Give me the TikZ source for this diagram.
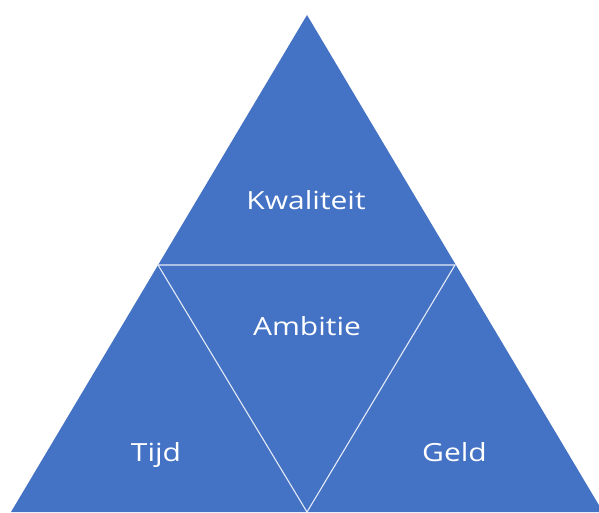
\documentclass[tikz,border=0pt]{standalone}
\usepackage{fontspec}
\setmainfont{Open Sans}
\usetikzlibrary{positioning}
\definecolor{officeblue}{HTML}{4472C4}
\newcommand\breed[1]{\scalebox{1.2}[1]{#1}}
\tikzset{lijn/.style={draw=white!85!officeblue, line width=1.1pt, line join=miter},
	tekst/.style={text=white, font=\fontsize{25}{30}\selectfont, inner sep=0pt, anchor=base}}

\begin{document}
\begin{tikzpicture}[x=1pt, y=-1pt]
	\useasboundingbox[fill=white] (0,0) rectangle (599,512);
	\coordinate(top) at (307,15);
	\coordinate(left) at (11,512);
	\coordinate(right) at (603,512);
	\coordinate(midL) at (158,265);
	\coordinate(midR) at (455,265);
	\coordinate(bottom) at (307,512);
	\fill[officeblue] (top) -- (left) -- (right) -- cycle;
	\draw[lijn] (midL) -- (midR) -- (bottom) -- cycle;
	\node[tekst](kwaliteit) at (306,209){\breed{Kwaliteit}};
	\node[tekst](ambitie) at (307,335.5){\breed{Ambitie}};
	\node[tekst](tijd) at (156,461){\breed{Tijd}};
	\node[tekst](geld) at (454.5,461){\breed{Geld}};
\end{tikzpicture}
\end{document}
